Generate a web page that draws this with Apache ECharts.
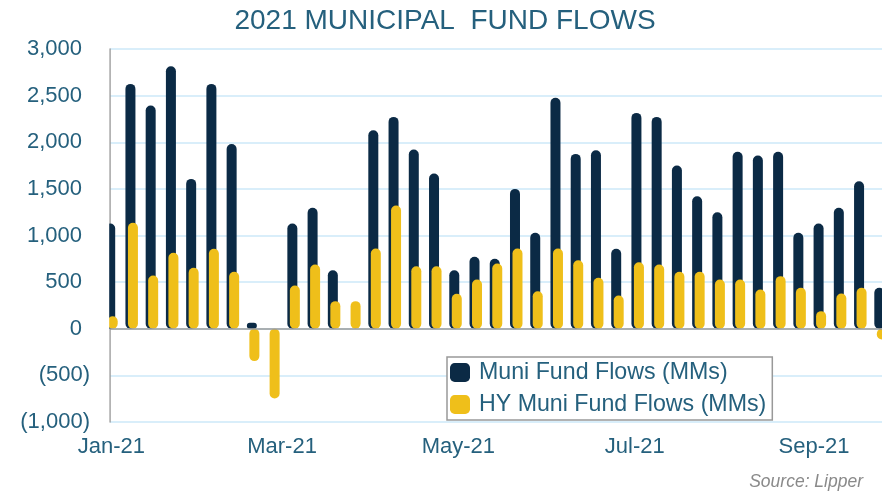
<!DOCTYPE html>
<html>
<head>
    <meta charset="utf-8">
    <script src="https://cdn.jsdelivr.net/npm/echarts@6/dist/echarts.min.js"></script>
</head>
<body style="margin:0">
    <div id="main" style="width:890px;height:495px"></div>
    <script type="text/javascript">
        // weekly dates (week ending Wednesday)
        var weeks = ['2021-01-06','2021-01-13','2021-01-20','2021-01-27','2021-02-03','2021-02-10','2021-02-17','2021-02-24',
            '2021-03-03','2021-03-10','2021-03-17','2021-03-24','2021-03-31','2021-04-07','2021-04-14','2021-04-21','2021-04-28',
            '2021-05-05','2021-05-12','2021-05-19','2021-05-26','2021-06-02','2021-06-09','2021-06-16','2021-06-23','2021-06-30',
            '2021-07-07','2021-07-14','2021-07-21','2021-07-28','2021-08-04','2021-08-11','2021-08-18','2021-08-25',
            '2021-09-01','2021-09-08','2021-09-15','2021-09-22','2021-09-29'];
        var muniFlows = [1128, 2626, 2393, 2815, 1607, 2626, 1982, 64, 0, 1128, 1297, 628, 0, 2129, 2272, 1921, 1664,
            628, 772, 750, 1500, 1029, 2476, 1875, 1914, 857, 2315, 2272, 1750, 1421, 1250, 1897, 1857, 1897,
            1029, 1129, 1297, 1582, 439];
        var hyFlows = [135, 1136, 571, 814, 653, 857, 611, -347, -747, 464, 689, 296, 296, 860, 1321, 671, 671,
            375, 528, 700, 860, 403, 860, 735, 546, 357, 714, 689, 611, 611, 528, 528, 421, 564,
            439, 189, 378, 439, -115];
        var tickDates = ['2021-01-06','2021-03-06','2021-05-06','2021-07-06','2021-09-06'];
        var monthNames = ['Jan','Feb','Mar','Apr','May','Jun','Jul','Aug','Sep','Oct','Nov','Dec'];

        // date string -> day number (days since 2021-01-01)
        function dayNum(s) {
            var p = s.split('-');
            return Math.round((Date.UTC(+p[0], +p[1] - 1, +p[2]) - Date.UTC(2021, 0, 1)) / 86400000);
        }
        var textColor = '#25607d';
        var font = 'Liberation Sans';
        var myChart = echarts.init(document.getElementById('main'));
        var option = {
            animation: false,
            title: {
                text: '2021 MUNICIPAL  FUND FLOWS',
                left: 'center',
                top: 2,
                textStyle: { color: textColor, fontFamily: font, fontSize: 28, fontWeight: 'normal' }
            },
            graphic: [
                // bars on a value axis are not clipped at the grid edge, mask the overflow
                { type: 'rect', z: 100, shape: { x: 92, y: 40, width: 17.2, height: 390 }, style: { fill: '#fff' } },
                { type: 'rect', z: 100, shape: { x: 882, y: 40, width: 10, height: 390 }, style: { fill: '#fff' } },
                { type: 'text', right: 27, top: 473, z: 100,
                  style: { text: 'Source: Lipper', fill: '#8a8a8a', font: 'italic 17.5px "Liberation Sans"' } }
            ],
            legend: {
                orient: 'vertical',
                left: 447, top: 357,
                padding: [4, 6, 4, 3],
                itemGap: 9,
                borderColor: '#999', borderWidth: 1.5,
                backgroundColor: '#fff',
                z: 110,
                icon: 'roundRect', itemWidth: 20, itemHeight: 19,
                textStyle: { color: textColor, fontFamily: font, fontSize: 23.2, padding: [0, 0, 0, 4] },
                data: ['Muni Fund Flows (MMs)', 'HY Muni Fund Flows (MMs)']
            },
            grid: { left: 110, right: 8, top: 49, bottom: 73 },
            xAxis: {
                type: 'value',
                min: dayNum(weeks[0]) - 0.5,
                max: dayNum(weeks[weeks.length - 1]) + 0.5,
                axisLine: { show: false },
                axisTick: { show: false },
                splitLine: { show: false },
                axisLabel: {
                    customValues: tickDates.map(dayNum),
                    color: textColor, fontFamily: font, fontSize: 22, margin: 14,
                    formatter: function (v) {
                        var d = new Date(Date.UTC(2021, 0, 1) + Math.round(v) * 86400000);
                        return monthNames[d.getUTCMonth()] + '-' + String(d.getUTCFullYear()).slice(2);
                    }
                }
            },
            yAxis: {
                type: 'value',
                min: -1000, max: 3000, interval: 500,
                axisLine: { show: true, lineStyle: { color: '#9a9a9a', width: 1.5 } },
                axisTick: { show: false },
                splitLine: { lineStyle: { color: '#cde9f8', width: 1.5 } },
                axisLabel: {
                    color: textColor, fontFamily: font, fontSize: 22, margin: 20,
                    formatter: function (v) {
                        var s = Math.abs(v).toLocaleString('en-US');
                        return v < 0 ? '(' + s + ')' : '{p|' + s + '}';
                    },
                    rich: { p: { color: textColor, fontFamily: font, fontSize: 22, padding: [0, 8, 0, 0] } }
                }
            },
            series: [{
                name: 'Muni Fund Flows (MMs)',
                type: 'bar',
                barWidth: 10,
                barGap: '-75%',
                itemStyle: { color: '#0b2a45', borderRadius: 5 },
                data: weeks.map(function (w, i) { return [dayNum(w), muniFlows[i]]; }),
                markLine: {
                    silent: true, symbol: 'none', label: { show: false },
                    lineStyle: { color: '#9a9a9a', width: 1.5, type: 'solid' },
                    data: [{ yAxis: 0 }]
                }
            }, {
                name: 'HY Muni Fund Flows (MMs)',
                type: 'bar',
                barWidth: 10,
                barGap: '-75%',
                itemStyle: { color: '#efbf1a', borderRadius: 5 },
                data: weeks.map(function (w, i) { return [dayNum(w), hyFlows[i]]; })
            }]
        };
        myChart.setOption(option);
    </script>
</body>
</html>
